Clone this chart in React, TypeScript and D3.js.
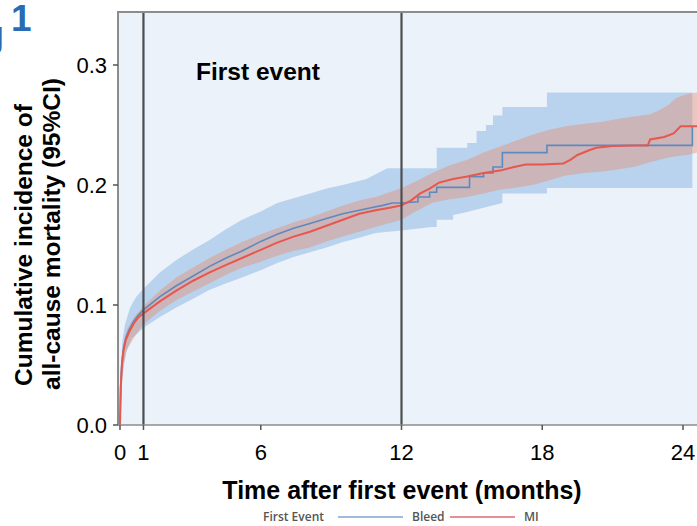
import React, { useRef, useEffect } from 'react'
import * as d3 from 'd3'

// axis ticks / reference lines (months, cumulative incidence)
const xTicks = [0, 1, 6, 12, 18, 24]
const yTicks = [0, 0.1, 0.2, 0.3]
const eventLines = [1, 12]
const legendItems = ['Bleed', 'MI']

// MI estimate
const miTime = [0, 0.03, 0.08, 0.15, 0.25, 0.4, 0.6, 0.8, 1.0, 1.7, 2.4, 3.1, 3.8, 4.6, 5.3, 6.0, 6.7, 7.4, 8.1, 8.8, 9.5, 10.2, 10.9, 11.5, 12.0, 12.4, 12.8, 13.2, 13.6, 14.2, 14.8, 15.5, 16.2, 16.8, 17.3, 18.0, 18.9, 19.2, 19.5, 20.0, 20.3, 21.0, 22.0, 22.5, 22.6, 23.2, 23.6, 23.9, 24.6]
const miValue = [0, 0.03, 0.05, 0.062, 0.071, 0.078, 0.085, 0.09, 0.093, 0.103, 0.112, 0.12, 0.127, 0.134, 0.14, 0.146, 0.152, 0.157, 0.161, 0.166, 0.171, 0.176, 0.179, 0.181, 0.183, 0.187, 0.193, 0.197, 0.202, 0.205, 0.207, 0.21, 0.212, 0.215, 0.217, 0.217, 0.218, 0.221, 0.225, 0.229, 0.231, 0.2325, 0.233, 0.233, 0.238, 0.24, 0.243, 0.249, 0.249]

// MI 95% CI
const miBandTime = [0, 0.05, 0.15, 0.3, 0.6, 1.0, 1.7, 2.4, 3.1, 3.8, 4.5, 5.2, 6.0, 6.7, 7.4, 8.1, 8.8, 9.5, 10.2, 10.9, 12.0, 12.6, 13.3, 14.0, 14.8, 15.5, 16.2, 16.9, 17.6, 18.3, 19.0, 19.8, 20.5, 21.2, 21.9, 22.6, 23.0, 23.4, 23.7, 24.2, 24.6]
const miUpper = [0, 0.04, 0.068, 0.08, 0.09, 0.099, 0.112, 0.123, 0.131, 0.139, 0.146, 0.1525, 0.159, 0.164, 0.169, 0.173, 0.178, 0.183, 0.187, 0.19, 0.1975, 0.203, 0.21, 0.216, 0.221, 0.227, 0.232, 0.237, 0.242, 0.246, 0.249, 0.251, 0.2525, 0.255, 0.257, 0.259, 0.2625, 0.267, 0.2725, 0.276, 0.277]
const miLower = [0, 0.025, 0.05, 0.063, 0.073, 0.084, 0.095, 0.104, 0.111, 0.118, 0.125, 0.131, 0.136, 0.141, 0.145, 0.148, 0.153, 0.157, 0.161, 0.165, 0.171, 0.178, 0.185, 0.188, 0.19, 0.193, 0.196, 0.198, 0.2, 0.204, 0.208, 0.21, 0.211, 0.213, 0.215, 0.219, 0.221, 0.223, 0.224, 0.225, 0.227]

// Bleed estimate
const bleedTime = [0, 0.03, 0.08, 0.15, 0.25, 0.4, 0.6, 0.8, 1.0, 1.7, 2.4, 3.1, 3.8, 4.5, 5.2, 6.0, 6.7, 7.4, 8.1, 8.8, 9.5, 10.2, 10.7, 11.2, 11.6, 12.0, 12.7, 12.7, 13.2, 13.2, 13.5, 13.5, 14.9, 14.9, 15.5, 15.5, 15.9, 15.9, 16.3, 16.3, 18.2, 18.2, 24.4, 24.4]
const bleedValue = [0, 0.032, 0.052, 0.064, 0.073, 0.08, 0.087, 0.092, 0.096, 0.107, 0.116, 0.124, 0.132, 0.139, 0.145, 0.153, 0.159, 0.164, 0.168, 0.172, 0.176, 0.179, 0.181, 0.183, 0.185, 0.185, 0.186, 0.19, 0.19, 0.194, 0.194, 0.198, 0.198, 0.207, 0.207, 0.21, 0.21, 0.215, 0.215, 0.227, 0.227, 0.233, 0.233, 0.249]

// Bleed 95% CI
const bleedUpperTime = [0, 0.03, 0.1, 0.2, 0.43, 0.7, 1.07, 1.7, 2.4, 3.1, 3.8, 4.5, 5.2, 6.0, 6.7, 7.4, 8.1, 8.8, 9.5, 10.5, 11.0, 11.4, 13.5, 13.5, 14.8, 14.8, 15.2, 15.2, 15.6, 15.6, 15.9, 15.9, 16.3, 16.3, 18.2, 18.2, 24.4]
const bleedUpper = [0, 0.045, 0.07, 0.083, 0.098, 0.107, 0.115, 0.127, 0.1375, 0.146, 0.154, 0.163, 0.171, 0.178, 0.185, 0.189, 0.193, 0.197, 0.2, 0.205, 0.21, 0.214, 0.214, 0.231, 0.231, 0.235, 0.235, 0.245, 0.245, 0.25, 0.25, 0.258, 0.258, 0.265, 0.265, 0.277, 0.277]
const bleedLowerTime = [0, 0.1, 0.25, 0.5, 1.07, 1.7, 2.4, 3.1, 3.8, 4.5, 5.2, 6.0, 6.7, 7.4, 8.1, 8.8, 9.5, 10.2, 10.9, 12.0, 13.3, 13.5, 13.5, 14.2, 14.2, 14.8, 15.5, 16.3, 16.3, 18.2, 18.2, 24.4]
const bleedLower = [0, 0.04, 0.06, 0.072, 0.082, 0.09, 0.098, 0.105, 0.1125, 0.118, 0.123, 0.129, 0.135, 0.14, 0.144, 0.148, 0.1525, 0.156, 0.16, 0.162, 0.165, 0.165, 0.171, 0.171, 0.175, 0.1775, 0.181, 0.185, 0.193, 0.193, 0.1975, 0.1975]

const zip = (t: number[], v: number[]) => t.map((d, i) => [d, v[i]] as [number, number])

export default function App() {
  const chart = useRef<SVGSVGElement>(null)

  useEffect(() => {
    document.body.style.margin = '0'
    const svg = d3.select(chart.current)
    svg.selectAll('*').remove()

    const x = d3.scaleLinear().domain([0, 24]).range([120, 683])
    const y = d3.scaleLinear().domain([0, 0.3]).range([425, 65])
    const left = 118, top = 12, right = 697, bottom = 425
    const font = 'Liberation Sans, Arial, sans-serif'

    svg.append('defs').append('clipPath').attr('id', 'plotclip')
      .append('rect').attr('x', left).attr('y', top).attr('width', right - left).attr('height', bottom - top)

    svg.append('rect').attr('x', left).attr('y', top).attr('width', right - left).attr('height', bottom - top)
      .attr('fill', '#ebf2fa')

    const line = d3.line<[number, number]>().x(d => x(d[0])).y(d => y(d[1]))
    const band = (ut: number[], u: number[], lt: number[], l: number[]) =>
      line(zip(ut, u).concat(zip(lt, l).reverse())) + 'Z'

    const g = svg.append('g').attr('clip-path', 'url(#plotclip)')
    g.append('path').attr('d', band(bleedUpperTime, bleedUpper, bleedLowerTime, bleedLower))
      .attr('fill', '#b9d3ee')
    g.append('path').attr('d', band(miBandTime, miUpper, miBandTime, miLower))
      .attr('fill', 'rgb(232,140,110)').attr('fill-opacity', 0.42)
    g.append('path').attr('d', line(zip(bleedTime, bleedValue)))
      .attr('fill', 'none').attr('stroke', '#5b8ac0').attr('stroke-width', 1.6)
    g.append('path').attr('d', line(zip(miTime, miValue)))
      .attr('fill', 'none').attr('stroke', '#e8574d').attr('stroke-width', 2)

    // event reference lines
    svg.selectAll('line.event').data(eventLines).join('line')
      .attr('class', 'event')
      .attr('x1', d => x(d)).attr('x2', d => x(d))
      .attr('y1', top).attr('y2', bottom)
      .attr('stroke', '#4d4d4d').attr('stroke-width', 2.2)

    // frame
    svg.append('path').attr('d', `M${left},${bottom}V${top}H${right}`)
      .attr('fill', 'none').attr('stroke', '#8c8c8c').attr('stroke-width', 2)
    svg.append('line').attr('x1', left).attr('x2', right).attr('y1', bottom).attr('y2', bottom)
      .attr('stroke', '#8c8c8c').attr('stroke-width', 1.6)

    // ticks
    svg.selectAll('line.ytick').data(yTicks).join('line').attr('class', 'ytick')
      .attr('x1', left - 5).attr('x2', left).attr('y1', d => y(d)).attr('y2', d => y(d))
      .attr('stroke', '#555').attr('stroke-width', 1.5)
    svg.selectAll('line.xtick').data(xTicks).join('line').attr('class', 'xtick')
      .attr('x1', d => x(d)).attr('x2', d => x(d)).attr('y1', bottom).attr('y2', bottom + 5)
      .attr('stroke', '#555').attr('stroke-width', 1.5)

    svg.selectAll('text.ylab').data(yTicks).join('text').attr('class', 'ylab')
      .attr('x', 107).attr('y', d => y(d) + 8)
      .attr('text-anchor', 'end').style('font-family', font).style('font-size', '22px')
      .text(d => d.toFixed(1))
    svg.selectAll('text.xlab').data(xTicks).join('text').attr('class', 'xlab')
      .attr('x', d => x(d)).attr('y', 460)
      .attr('text-anchor', 'middle').style('font-family', font).style('font-size', '22px')
      .text(d => d)

    // titles
    svg.append('text').attr('x', 402).attr('y', 499).attr('text-anchor', 'middle')
      .style('font-family', font).style('font-size', '25px').style('font-weight', 'bold')
      .text('Time after first event (months)')
    svg.append('text').attr('transform', 'translate(32,245) rotate(-90)').attr('text-anchor', 'middle')
      .style('font-family', font).style('font-size', '24.5px').style('font-weight', 'bold')
      .text('Cumulative incidence of')
    svg.append('text').attr('transform', 'translate(60,234) rotate(-90)').attr('text-anchor', 'middle')
      .style('font-family', font).style('font-size', '24.5px').style('font-weight', 'bold')
      .text('all-cause mortality (95%CI)')
    svg.append('text').attr('x', 196).attr('y', 80)
      .style('font-family', font).style('font-size', '24.5px').style('font-weight', 'bold')
      .text('First event')

    // panel label (cut off at the left edge, as in the figure)
    svg.append('text').attr('x', 4).attr('y', 47).attr('text-anchor', 'end')
      .style('font-family', font).style('font-size', '36px').style('font-weight', 'bold')
      .attr('fill', '#2a6bb3').text('Fig')
    svg.append('text').attr('x', 11).attr('y', 31)
      .style('font-family', font).style('font-size', '37px').style('font-weight', 'bold')
      .attr('fill', '#2a6bb3').text('1')

    // legend
    const lg = svg.append('g').style('font-family', 'Open Sans, sans-serif').style('font-size', '12px')
      .style('font-weight', 600).attr('fill', '#555')
    lg.append('text').attr('x', 263).attr('y', 521).text('First Event')
    const legendColors = ['#7ea6d0', '#dd6a6e']
    const legendX = [338, 450]
    legendItems.forEach((name, i) => {
      lg.append('line').attr('x1', legendX[i]).attr('x2', legendX[i] + 65).attr('y1', 517).attr('y2', 517)
        .attr('stroke', legendColors[i]).attr('stroke-width', 1.5)
      lg.append('text').attr('x', legendX[i] + 74).attr('y', 521).text(name)
    })
  })

  return (
    <div>
      <svg ref={chart} width={697} height={526} style={{ display: 'block' }} />
    </div>
  )
}
